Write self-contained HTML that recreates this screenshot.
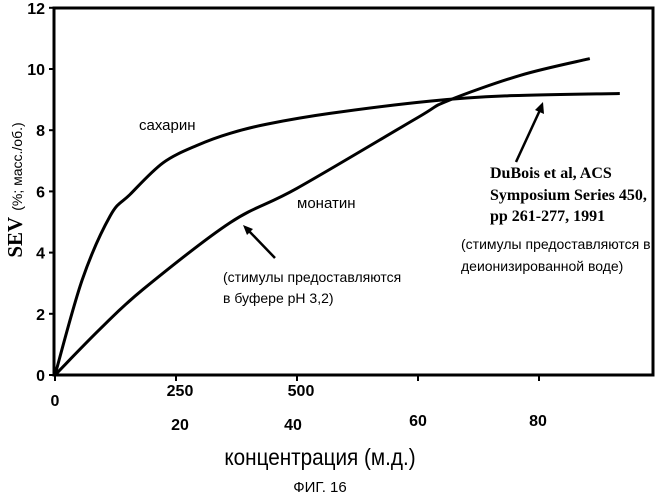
<!DOCTYPE html>
<html><head><meta charset="utf-8"><style>
body{margin:0;background:#fff;}
svg{display:block;font-family:"Liberation Sans","DejaVu Sans",sans-serif;}
.tk{font-weight:bold;font-size:16px;}
</style></head><body>
<svg id="chart" width="660" height="500" viewBox="0 0 660 500">
<g id="marks"></g>
<rect x="54" y="8" width="599" height="367" fill="none" stroke="#000" stroke-width="3"/>
<g id="axes"></g>
<text x="139" y="130" font-size="15">сахарин</text>
<text x="297" y="208" font-size="15">монатин</text>
<line x1="275" y1="258" x2="248" y2="230" stroke="#000" stroke-width="2.5"/>
<polygon points="243,225 253,229 247,235" fill="#000"/>
<text x="223" y="282" font-size="14">(стимулы предоставляются</text>
<text x="223" y="303" font-size="14">в буфере pH 3,2)</text>
<line x1="516" y1="162" x2="540" y2="110" stroke="#000" stroke-width="2.5"/>
<polygon points="543,102 544,114 535,110" fill="#000"/>
<g font-family="'Liberation Serif',serif" font-weight="bold" font-size="16">
<text x="490" y="178">DuBois et al, ACS</text>
<text x="490" y="200">Symposium Series 450,</text>
<text x="490" y="221">pp 261-277, 1991</text>
</g>
<text x="461" y="249" font-size="14">(стимулы предоставляются в</text>
<text x="461" y="271" font-size="14">деионизированной воде)</text>
<g transform="translate(22,190) rotate(-90)">
<text x="0" y="0" text-anchor="middle"><tspan font-family="'Liberation Serif',serif" font-weight="bold" font-size="21">SEV</tspan><tspan font-size="14" dx="6">(%; масс./об.)</tspan></text>
</g>
<text x="320" y="465" text-anchor="middle" font-size="23" transform="translate(320,0) scale(0.9,1) translate(-320,0)">концентрация (м.д.)</text>
<text x="320" y="492" text-anchor="middle" font-size="15">ФИГ. 16</text>
</svg>
<script>
const yTicks=[0,2,4,6,8,10,12];
const xTicksTop=[0,250,500];
const xLabelsBottom=["20","40","60","80"];
const saccharinX=[0,56,114,155,223,293,362,438,568,775,930,1167];
const saccharinY=[0,3.1,5.2,5.9,6.93,7.5,7.9,8.2,8.55,8.95,9.12,9.2];
const monatinX=[0,93,182,362,500,748,810,961,1105];
const monatinY=[0,1.5,2.8,4.98,6.1,8.4,8.95,9.79,10.34];
const X0=55,XS=0.484,Y0=375,YS=30.6;
const sx=v=>X0+v*XS, sy=v=>Y0-v*YS;
const NS="http://www.w3.org/2000/svg";
const axes=document.getElementById('axes'), marks=document.getElementById('marks');
function mk(t,a,p){const e=document.createElementNS(NS,t);for(const k in a)e.setAttribute(k,a[k]);p.appendChild(e);return e;}
yTicks.forEach(v=>{
 const l=mk('line',{x1:49,x2:54,y1:sy(v),y2:sy(v),stroke:'#000','stroke-width':2},axes);
 
 
 const t=mk('text',{x:45,y:sy(v)+6,'text-anchor':'end',class:'tk'},axes);
 t.textContent=v;
 
 
});
for(let i=0;i<5;i++){
 const x=X0+i*121;
 const l=mk('line',{x1:x,x2:x,y1:375,y2:381,stroke:'#000','stroke-width':2},axes);
 
 
}
xTicksTop.forEach(v=>{
 const t=mk('text',{x:v===0?sx(v):sx(v)+4,y:v===0?406:396,'text-anchor':'middle',class:'tk'},axes);
 t.textContent=v;
 
 
});
xLabelsBottom.forEach((s,i)=>{
 const t=mk('text',{x:[180,293,418,538][i],y:[430,430,426,426][i],'text-anchor':'middle',class:'tk'},axes);
 t.textContent=s;
 
 
});
function line(xs,ys,name){
 const P=xs.map((x,i)=>[sx(x),sy(ys[i])]);
 let d='M'+P[0][0].toFixed(1)+','+P[0][1].toFixed(1);
 for(let i=0;i<P.length-1;i++){
  const p0=P[Math.max(i-1,0)],p1=P[i],p2=P[i+1],p3=P[Math.min(i+2,P.length-1)];
  const c1=[p1[0]+(p2[0]-p0[0])/6,p1[1]+(p2[1]-p0[1])/6];
  const c2=[p2[0]-(p3[0]-p1[0])/6,p2[1]-(p3[1]-p1[1])/6];
  d+='C'+c1.map(n=>n.toFixed(1)).join(',')+' '+c2.map(n=>n.toFixed(1)).join(',')+' '+p2.map(n=>n.toFixed(1)).join(',');
 }
 const p=mk('path',{d:d,fill:'none',stroke:'#000','stroke-width':3,'stroke-linejoin':'round'},marks);
 
 
}
line(saccharinX,saccharinY,'saccharin-line');
line(monatinX,monatinY,'monatin-line');
</script>
</body></html>
